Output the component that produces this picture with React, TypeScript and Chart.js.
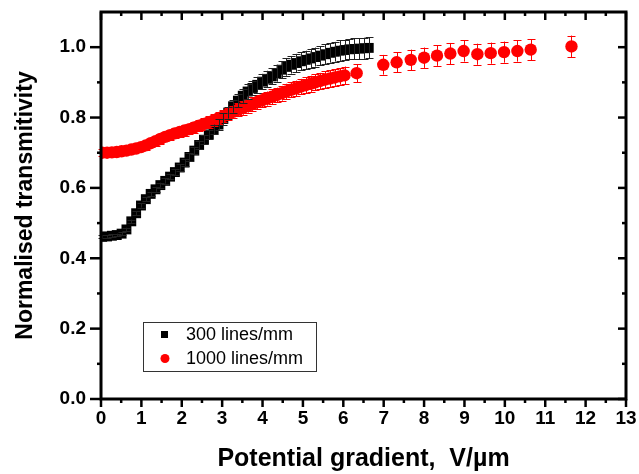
import React, { useEffect, useRef } from "react";
import { Chart, registerables } from "chart.js";

Chart.register(...registerables);

const xTickLabels = ["0","1","2","3","4","5","6","7","8","9","10","11","12","13"];
const yTickLabels = ["0.0","0.2","0.4","0.6","0.8","1.0"];

const seriesNames = ["300 lines/mm", "1000 lines/mm"];

const blackX = [0.03,0.15,0.27,0.39,0.51,0.63,0.75,0.87,0.99,1.11,1.23,1.35,1.47,1.59,1.71,1.83,1.95,2.07,2.19,2.31,2.43,2.55,2.67,2.79,2.91,3.03,3.15,3.27,3.39,3.51,3.63,3.75,3.87,3.99,4.11,4.23,4.35,4.47,4.59,4.71,4.83,4.95,5.07,5.19,5.31,5.43,5.55,5.67,5.79,5.91,6.03,6.15,6.27,6.39,6.51,6.63];
const blackY = [0.461,0.462,0.464,0.466,0.47,0.482,0.505,0.528,0.55,0.568,0.583,0.596,0.608,0.62,0.632,0.645,0.658,0.672,0.688,0.706,0.722,0.737,0.752,0.766,0.78,0.796,0.814,0.832,0.848,0.862,0.874,0.884,0.893,0.902,0.91,0.917,0.926,0.936,0.944,0.95,0.955,0.96,0.964,0.968,0.972,0.976,0.98,0.984,0.987,0.99,0.992,0.994,0.995,0.996,0.997,0.998];
const blackErr = [0.004,0.004,0.004,0.004,0.005,0.005,0.005,0.005,0.006,0.006,0.006,0.007,0.007,0.008,0.008,0.009,0.009,0.01,0.011,0.011,0.012,0.013,0.013,0.014,0.015,0.016,0.017,0.018,0.019,0.02,0.021,0.021,0.022,0.022,0.023,0.023,0.024,0.024,0.025,0.025,0.026,0.026,0.026,0.027,0.027,0.027,0.028,0.028,0.028,0.029,0.029,0.029,0.03,0.03,0.03,0.03];

const redX = [0.03,0.15,0.27,0.39,0.51,0.63,0.75,0.87,0.99,1.11,1.23,1.35,1.47,1.59,1.71,1.83,1.95,2.07,2.19,2.31,2.43,2.55,2.67,2.79,2.91,3.03,3.15,3.27,3.39,3.51,3.63,3.75,3.87,3.99,4.11,4.23,4.35,4.47,4.59,4.71,4.83,4.95,5.07,5.19,5.31,5.43,5.55,5.67,5.79,5.91,6.03,6.33,6.99,7.32,7.67,8.0,8.32,8.65,8.98,9.32,9.65,9.98,10.31,10.64,11.65];
const redY = [0.7,0.7,0.701,0.702,0.704,0.706,0.709,0.712,0.716,0.721,0.727,0.733,0.739,0.745,0.75,0.755,0.759,0.763,0.767,0.772,0.777,0.782,0.787,0.792,0.798,0.804,0.81,0.816,0.822,0.827,0.833,0.838,0.844,0.849,0.854,0.859,0.864,0.869,0.874,0.879,0.883,0.888,0.892,0.896,0.9,0.904,0.908,0.911,0.914,0.917,0.92,0.926,0.95,0.957,0.964,0.97,0.976,0.982,0.989,0.98,0.983,0.986,0.989,0.993,1.002];
const redErr = [0.01,0.01,0.01,0.01,0.01,0.011,0.011,0.011,0.012,0.012,0.012,0.013,0.013,0.013,0.014,0.014,0.014,0.015,0.015,0.015,0.016,0.016,0.016,0.017,0.017,0.017,0.018,0.018,0.018,0.019,0.019,0.019,0.02,0.02,0.02,0.021,0.021,0.021,0.022,0.022,0.022,0.022,0.023,0.023,0.023,0.023,0.024,0.024,0.024,0.024,0.025,0.025,0.028,0.028,0.029,0.029,0.029,0.03,0.03,0.03,0.03,0.03,0.03,0.03,0.031];

const FONT = "'Liberation Sans', Arial, Helvetica, sans-serif";

const errorBars = {
  id: "errorBars",
  afterDatasetsDraw(chart: any) {
    const { ctx, scales } = chart;
    const y = scales.y;
    ctx.save();
    ctx.lineWidth = 1;
    const order = [1, 0];
    for (const i of order) {
      const ds = chart.data.datasets[i];
      const meta = chart.getDatasetMeta(i);
      const errs: number[] = ds.errors;
      ctx.strokeStyle = ds.errColor;
      meta.data.forEach((pt: any, k: number) => {
        const v = ds.data[k].y;
        const e = errs[k];
        const px = Math.round(pt.x) + 0.5;
        const y1 = y.getPixelForValue(v + e);
        const y2 = y.getPixelForValue(v - e);
        ctx.beginPath();
        ctx.moveTo(px, y1);
        ctx.lineTo(px, y2);
        ctx.moveTo(px - 4, Math.round(y1) + 0.5);
        ctx.lineTo(px + 4, Math.round(y1) + 0.5);
        ctx.moveTo(px - 4, Math.round(y2) + 0.5);
        ctx.lineTo(px + 4, Math.round(y2) + 0.5);
        ctx.stroke();
      });
    }
    ctx.restore();
  },
};

const frame = {
  id: "frame",
  afterDraw(chart: any) {
    const { ctx, chartArea, scales } = chart;
    const { left, right, top, bottom } = chartArea;
    const x = scales.x;
    const y = scales.y;
    ctx.save();
    ctx.strokeStyle = "#000";
    ctx.lineWidth = 2.5;
    const line = (a: number, b: number, c: number, d: number) => {
      ctx.beginPath();
      ctx.moveTo(a, b);
      ctx.lineTo(c, d);
      ctx.stroke();
    };
    for (let k = 0; k <= 26; k++) {
      const px = x.getPixelForValue(k / 2);
      const len = k % 2 === 0 ? 8 : 4;
      line(px, bottom, px, bottom + len);
      line(px, top, px, top + len);
    }
    for (let k = 0; k <= 10; k++) {
      const py = y.getPixelForValue(k / 10);
      const major = k % 2 === 0;
      line(left - (major ? 11 : 4), py, left, py);
      line(right, py, right - (major ? 8 : 4), py);
    }
    ctx.lineWidth = 3;
    ctx.strokeRect(left, top, right - left, bottom - top);

    // legend box
    const bx = 143, by = 322, bw = 173, bh = 49;
    ctx.lineWidth = 1;
    ctx.strokeStyle = "#333";
    ctx.strokeRect(bx + 0.5, by + 0.5, bw, bh);
    ctx.fillStyle = "#000";
    ctx.fillRect(161, 331, 7, 7);
    ctx.fillStyle = "#ff0000";
    ctx.beginPath();
    ctx.arc(165, 358.5, 4.5, 0, Math.PI * 2);
    ctx.fill();
    ctx.fillStyle = "#000";
    ctx.font = `18px ${FONT}`;
    ctx.textBaseline = "middle";
    ctx.fillText(chart.data.datasets[0].label, 186, 335);
    ctx.fillText(chart.data.datasets[1].label, 186, 359);
    ctx.restore();
  },
};

export default function App() {
  const ref = useRef<HTMLCanvasElement>(null);
  useEffect(() => {
    const canvas = ref.current!;
    const chart = new Chart(canvas, {
      type: "scatter",
      data: {
        datasets: [
          {
            label: seriesNames[0],
            data: blackX.map((v, i) => ({ x: v, y: blackY[i] })),
            backgroundColor: "#000",
            borderColor: "#000",
            pointStyle: "rect",
            pointRadius: 7,
            borderWidth: 0,
            errors: blackErr,
            errColor: "#222",
            order: 1,
          } as any,
          {
            label: seriesNames[1],
            data: redX.map((v, i) => ({ x: v, y: redY[i] })),
            backgroundColor: "#ff0000",
            borderColor: "#ff0000",
            pointStyle: "circle",
            pointRadius: 6.2,
            borderWidth: 0,
            errors: redErr,
            errColor: "#ff0000",
            order: 0,
          } as any,
        ],
      },
      options: {
        animation: false,
        responsive: false,
        events: [],
        layout: { padding: { left: 0, right: 13, top: 12, bottom: 0 } },
        plugins: { legend: { display: false }, tooltip: { enabled: false } },
        scales: {
          x: {
            type: "linear",
            min: 0,
            max: 13,
            grid: { display: false },
            border: { display: false },
            afterFit: (s: any) => { s.height = 75; s.paddingLeft = 0; s.paddingRight = 0; },
            ticks: {
              stepSize: 1,
              padding: 0,
              color: "#000",
              font: { family: FONT, size: 19, weight: "bold" },
              callback: (v: any) => xTickLabels[Math.round(Number(v))] ?? "",
            },
            title: {
              display: true,
              text: "Potential gradient,  V/\u00b5m",
              color: "#000",
              font: { family: FONT, size: 25, weight: "bold" },
              padding: { top: 1, bottom: 0 },
            },
          },
          y: {
            type: "linear",
            min: 0,
            max: 1.1,
            grid: { display: false },
            border: { display: false },
            afterFit: (s: any) => { s.width = 101; s.paddingTop = 0; s.paddingBottom = 0; },
            afterBuildTicks: (s: any) => { s.ticks = s.ticks.filter((t: any) => t.value <= 1.0001); },
            ticks: {
              stepSize: 0.2,
              includeBounds: false,
              padding: 7,
              color: "#000",
              font: { family: FONT, size: 19, weight: "bold" },
              callback: (v: any) => yTickLabels[Math.round(Number(v) * 5)] ?? "",
            },
            title: {
              display: true,
              text: "Normalised transmitivity",
              color: "#000",
              font: { family: FONT, size: 23, weight: "bold" },
              padding: { top: 12, bottom: 0 },
            },
          },
        },
      },
      plugins: [errorBars, frame],
    });
    return () => chart.destroy();
  }, []);
  return (
    <div style={{ position: "absolute", left: 0, top: 0, width: 639, height: 474, background: "#fff" }}>
      <canvas ref={ref} width={639} height={474} style={{ display: "block" }} />
    </div>
  );
}
